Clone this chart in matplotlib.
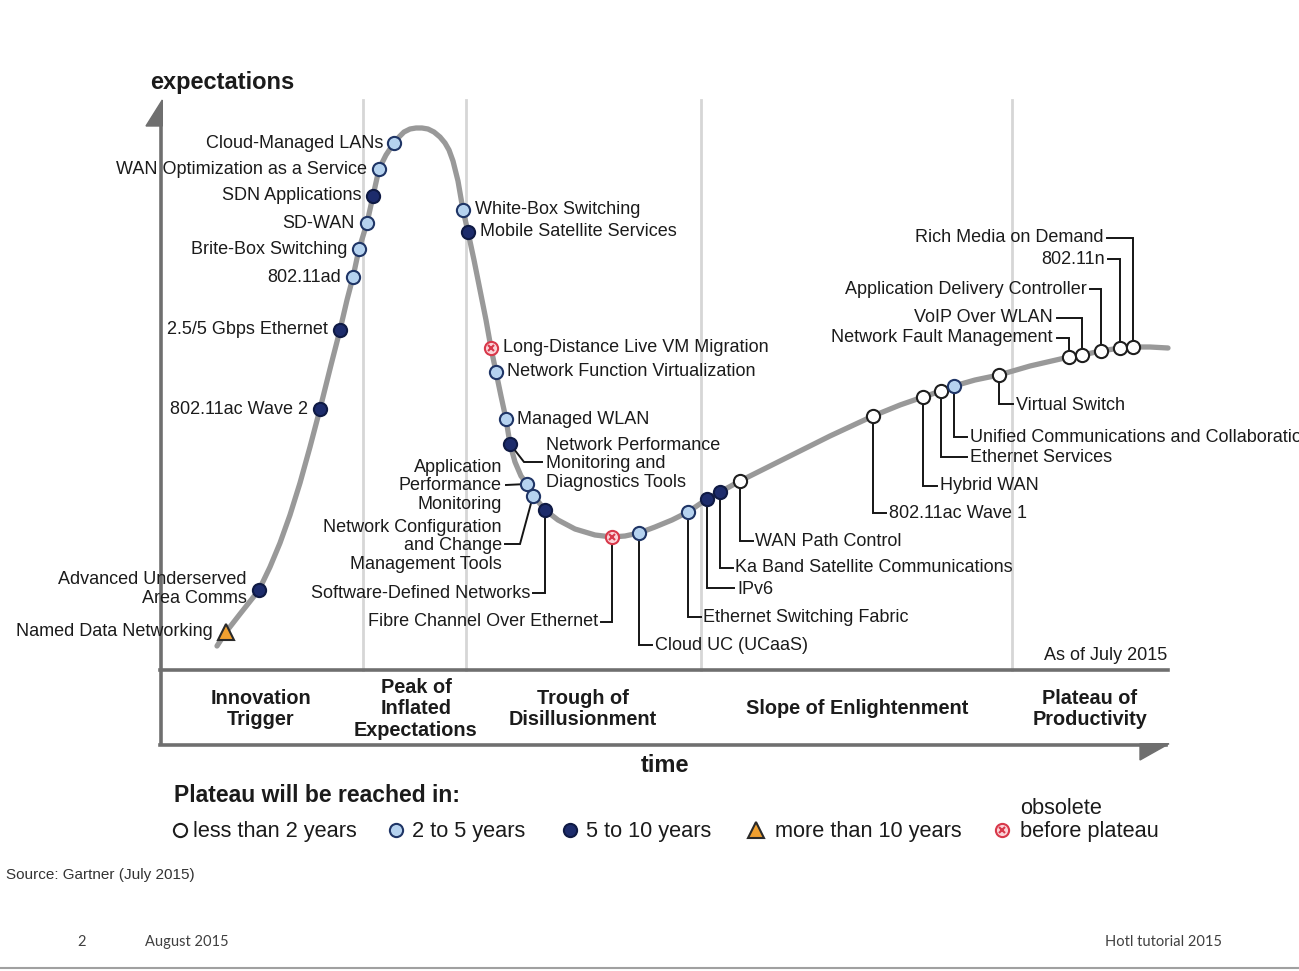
import matplotlib
matplotlib.use("Agg")
import matplotlib.pyplot as plt
from matplotlib.patches import Polygon

# ---------------- data (pixel space) ----------------
curve_x = [217, 226, 240, 259, 270, 280, 290, 300, 310, 320, 331, 340, 347, 353, 359,
           367, 373, 379, 386, 394, 399, 404, 410, 416, 422, 428, 434, 440, 445, 449,
           453, 458, 463, 468, 474, 480, 486, 491, 496, 501, 506, 510, 515, 521, 527,
           533, 545, 558, 575, 595, 612, 625, 639, 655, 672, 688, 707, 720, 740, 770,
           800, 830, 873, 900, 923, 941, 954, 975, 999, 1030, 1069, 1082, 1101, 1120,
           1133, 1150, 1168]
curve_y = [646, 632, 614, 590, 567, 543, 515, 483, 447, 409, 365, 330, 300, 277, 249,
           223, 196, 169, 155, 143, 137, 132, 129, 128, 128, 129, 132, 137, 143, 150,
           161, 181, 210, 232, 260, 290, 320, 348, 372, 396, 419, 444, 462, 476, 484,
           495, 510, 520, 529, 535, 537, 536, 533, 527, 520, 512, 499, 492, 481, 466,
           451, 436, 416, 405, 397, 391, 386, 380, 375, 366, 357, 355, 351, 348, 347,
           347, 348]

tech_names = [
    "Named Data Networking", "Advanced Underserved\nArea Comms", "802.11ac Wave 2",
    "2.5/5 Gbps Ethernet", "802.11ad", "Brite-Box Switching", "SD-WAN",
    "SDN Applications", "WAN Optimization as a Service", "Cloud-Managed LANs",
    "White-Box Switching", "Mobile Satellite Services",
    "Long-Distance Live VM Migration", "Network Function Virtualization",
    "Managed WLAN", "Network Performance\nMonitoring and\nDiagnostics Tools",
    "Application\nPerformance\nMonitoring",
    "Network Configuration\nand Change\nManagement Tools",
    "Software-Defined Networks", "Fibre Channel Over Ethernet", "Cloud UC (UCaaS)",
    "Ethernet Switching Fabric", "IPv6", "Ka Band Satellite Communications",
    "WAN Path Control", "802.11ac Wave 1", "Hybrid WAN", "Ethernet Services",
    "Unified Communications and Collaboration", "Virtual Switch",
    "Network Fault Management", "VoIP Over WLAN", "Application Delivery Controller",
    "802.11n", "Rich Media on Demand"]
tech_x = [226, 259, 320, 340, 353, 359, 367, 373, 379, 394, 463, 468, 491, 496, 506,
          510, 527, 533, 545, 612, 639, 688, 707, 720, 740, 873, 923, 941, 954, 999,
          1069, 1082, 1101, 1120, 1133]
tech_y = [632, 590, 409, 330, 277, 249, 223, 196, 169, 143, 210, 232, 348, 372, 419,
          444, 484, 496, 510, 537, 533, 512, 499, 492, 481, 416, 397, 391, 386, 375,
          357, 355, 351, 348, 347]
tech_cat = ["gt10", "5to10", "5to10", "5to10", "2to5", "2to5", "2to5", "5to10", "2to5",
            "2to5", "2to5", "5to10", "obs", "2to5", "2to5", "5to10", "2to5", "2to5",
            "5to10", "obs", "2to5", "2to5", "5to10", "5to10", "lt2", "lt2", "lt2", "lt2",
            "2to5", "lt2", "lt2", "lt2", "lt2", "lt2", "lt2"]

legend_cats = ["lt2", "2to5", "5to10", "gt10", "obs"]
legend_labels = ["less than 2 years", "2 to 5 years", "5 to 10 years",
                 "more than 10 years", "before plateau"]

phase_labels = ["Innovation\nTrigger", "Peak of\nInflated\nExpectations",
                "Trough of\nDisillusionment", "Slope of Enlightenment",
                "Plateau of\nProductivity"]

# ---------------- layout (label anchor, alignment, leader bends) ----------------
label_layout = [
    (213, 632, "right", []), (247, 589, "right", []), (308, 409, "right", []),
    (328, 330, "right", []), (341, 277, "right", []), (347, 249, "right", []),
    (355, 223, "right", []), (362, 196, "right", []), (367, 169, "right", []),
    (383, 143, "right", []), (475, 210, "left", []), (480, 232, "left", []),
    (503, 348, "left", []), (507, 372, "left", []), (517, 419, "left", []),
    (546, 464, "left", [(524, 462), (542, 462)]),
    (502, 486, "right", [(506, 485)]),
    (502, 546, "right", [(520, 544), (505, 544)]),
    (530, 593, "right", [(545, 593), (533, 593)]),
    (598, 622, "right", [(612, 622), (601, 622)]),
    (655, 646, "left", [(639, 645), (652, 645)]),
    (703, 617, "left", [(688, 617), (701, 617)]),
    (737, 589, "left", [(707, 588), (734, 588)]),
    (735, 568, "left", [(720, 568), (733, 568)]),
    (755, 541, "left", [(740, 541), (753, 541)]),
    (889, 513, "left", [(873, 513), (886, 513)]),
    (940, 486, "left", [(923, 486), (937, 486)]),
    (970, 457, "left", [(941, 457), (967, 457)]),
    (970, 437, "left", [(954, 437), (967, 437)]),
    (1016, 405, "left", [(999, 404), (1013, 404)]),
    (1053, 338, "right", [(1069, 338), (1057, 338)]),
    (1053, 318, "right", [(1082, 318), (1057, 318)]),
    (1087, 289, "right", [(1101, 289), (1090, 289)]),
    (1105, 259, "right", [(1120, 259), (1108, 259)]),
    (1104, 238, "right", [(1133, 238), (1107, 238)]),
]

styles = {
    "lt2":   dict(marker="o", ms=9.5, mfc="white", mec="#1e1e1e", mew=1.5),
    "2to5":  dict(marker="o", ms=9.5, mfc="#b5d2ef", mec="#1f3566", mew=1.5),
    "5to10": dict(marker="o", ms=9.5, mfc="#1d2c6c", mec="#0f1a44", mew=1.5),
    "gt10":  dict(marker="^", ms=12, mfc="#f0a030", mec="#2a2a2a", mew=1.5),
    "obs":   dict(marker="o", ms=9.5, mfc="#fbd3d8", mec="#d8384a", mew=1.5),
}

FONT = ["Liberation Sans", "DejaVu Sans"]
TXT = "#1b1b1b"
AXC = "#6f6f6f"

fig = plt.figure(figsize=(12.99, 9.71), dpi=100)
ax = fig.add_axes([0, 0, 1, 1])
ax.set_xlim(0, 1299)
ax.set_ylim(971, 0)
ax.axis("off")


def draw_marker(x, y, cat, z=6):
    st = styles[cat]
    ax.plot([x], [y], linestyle="none", zorder=z, **st)
    if cat == "obs":
        ax.plot([x], [y], linestyle="none", marker="x", ms=5, mec="#d8384a",
                mew=1.5, zorder=z + 1)


# phase dividers
for xd in [363, 466, 701, 1012]:
    ax.plot([xd, xd], [100, 670], color="#d6d6d6", lw=2, zorder=1)

# axes
ax.plot([161, 161], [124, 745], color=AXC, lw=2.6, zorder=2, solid_capstyle="butt")
ax.add_patch(Polygon([(162.3, 100), (146, 126), (162.3, 126)], closed=True,
                     color=AXC, zorder=2))
ax.plot([160, 1168], [670, 670], color=AXC, lw=2.6, zorder=2)
ax.plot([160, 1166], [745, 745], color=AXC, lw=2.6, zorder=2)
ax.add_patch(Polygon([(1140, 743.7), (1169, 743.7), (1140, 760)], closed=True,
                     color=AXC, zorder=2))

# curve
ax.plot(curve_x, curve_y, color="#999999", lw=3.8, solid_capstyle="round",
        solid_joinstyle="round", zorder=3)

# technologies
for name, x, y, cat, (tx, ty, ha, bends) in zip(tech_names, tech_x, tech_y,
                                                 tech_cat, label_layout):
    if bends:
        px = [x] + [b[0] for b in bends]
        py = [y] + [b[1] for b in bends]
        ax.plot(px, py, color="#151515", lw=1.4, zorder=4, solid_joinstyle="miter")
    draw_marker(x, y, cat)
    ax.text(tx, ty, name, ha=ha, va="center", fontsize=13, family=FONT,
            color=TXT, linespacing=1.08, multialignment=ha, zorder=7)

# axis titles
ax.text(150, 82, "expectations", ha="left", va="center", fontsize=17,
        fontweight="bold", family=FONT, color=TXT)
ax.text(665, 765, "time", ha="center", va="center", fontsize=17,
        fontweight="bold", family=FONT, color=TXT)
ax.text(1167, 656, "As of July 2015", ha="right", va="center", fontsize=13,
        family=FONT, color=TXT)

# phase labels
for lab, xc in zip(phase_labels, [261, 416, 583, 857, 1090]):
    ax.text(xc, 709, lab, ha="center", va="center", fontsize=14.3,
            fontweight="bold", family=FONT, color=TXT, linespacing=1.16)

# legend
ax.text(174, 795, "Plateau will be reached in:", ha="left", va="center",
        fontsize=16.5, fontweight="bold", family=FONT, color=TXT)
for cat, lab, mx, tx in zip(legend_cats, legend_labels,
                            [180, 396, 570, 756, 1002], [193, 412, 586, 775, 1020]):
    draw_marker(mx, 830, cat)
    ax.text(tx, 831, lab, ha="left", va="center", fontsize=15.7, family=FONT,
            color=TXT)
ax.text(1020, 808, "obsolete", ha="left", va="center", fontsize=15.7,
        family=FONT, color=TXT)

ax.text(6, 875, "Source: Gartner (July 2015)", ha="left", va="center",
        fontsize=11, family=FONT, color="#333333")

# slide footer
FOOT = ["Lato", "DejaVu Sans"]
ax.text(82, 942, "2", ha="center", va="center", fontsize=10.5, family=FOOT,
        color="#404040")
ax.text(145, 942, "August 2015", ha="left", va="center", fontsize=10.5,
        family=FOOT, color="#404040")
ax.text(1222, 942, "Hotl tutorial 2015", ha="right", va="center", fontsize=10.5,
        family=FOOT, color="#404040")
ax.plot([0, 1299], [968, 968], color="#a0a0a0", lw=1.5)

fig.savefig("out.png", dpi=100)
